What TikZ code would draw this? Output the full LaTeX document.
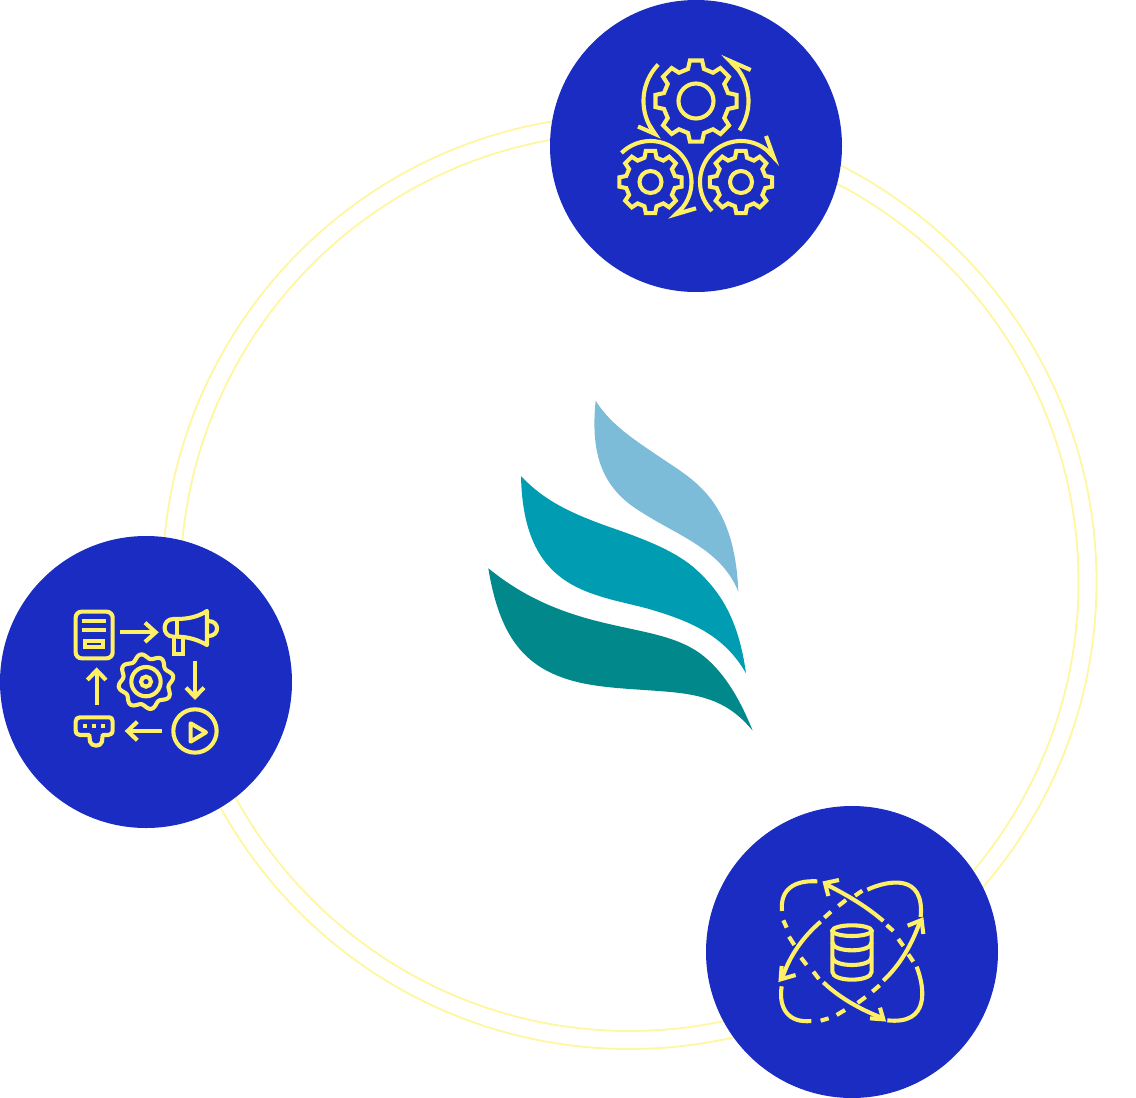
\documentclass[tikz,border=0pt]{standalone}
\definecolor{disc}{RGB}{27,44,194}
\definecolor{icon}{RGB}{255,240,102}
\definecolor{ring}{RGB}{255,246,160}
\definecolor{leafa}{RGB}{125,188,216}
\definecolor{leafb}{RGB}{0,157,178}
\definecolor{leafc}{RGB}{0,136,138}
\tikzset{
  disc/.style={circle,fill=disc,draw=none,minimum size=292pt,inner sep=0pt},
  ringline/.style={draw=ring,line width=1.8pt},
  ic/.style={draw=icon,line width=4.1pt,line join=miter},
  icr/.style={draw=icon,line width=4.1pt,line join=round,line cap=round},
}
% centre x, centre y, tip radius, base radius, hole radius
\newcommand{\cog}[5]{%
  \draw[ic] ({#1+#4*cos(-14)},{#2+#4*sin(-14)})
    \foreach \a in {0,45,...,315}{
      -- ({#1+#4*cos(\a-14)},{#2+#4*sin(\a-14)})
      -- ({#1+#3*cos(\a-8.5)},{#2+#3*sin(\a-8.5)})
      -- ({#1+#3*cos(\a+8.5)},{#2+#3*sin(\a+8.5)})
      -- ({#1+#4*cos(\a+14)},{#2+#4*sin(\a+14)})
    } -- cycle;
  \draw[ic] (#1,#2) circle[radius=#5];
}
% centre x, centre y, radius, from, to
\newcommand{\bend}[5]{%
  \draw[ic] plot[domain=#4:#5,samples=50,smooth] ({#1+#3*cos(\x)},{#2+#3*sin(\x)});
}
% centre x, centre y, radius, tip angle, back angle, barb end
\newcommand{\barb}[6]{%
  \draw[ic,miter limit=12] #6 -- ({#1+#3*cos(#4)},{#2+#3*sin(#4)}) -- ({#1+#3*cos(#5)},{#2+#3*sin(#5)});
}
\begin{document}
\begin{tikzpicture}[x=1pt,y=-1pt]
\useasboundingbox (0,0) rectangle (1136,1098);
% rings
\draw[ringline] (629.5,582) circle[radius=467];
\draw[ringline] (629.5,582) circle[radius=449];
% discs
\node[disc] (top) at (696,146) {};
\node[disc] (left) at (146,682) {};
\node[disc] (right) at (852,952) {};
% top icon
\cog{696}{101}{41}{33}{17.5}
\cog{650.5}{182}{31.5}{25}{11}
\cog{741}{182}{31.5}{25}{11}
\bend{696}{101}{52.5}{224}{146}
\bend{696}{101}{52.5}{34}{-44}
\bend{650.5}{182}{41}{-135}{46}
\bend{741}{182}{41}{135}{316}
\barb{696}{101}{52.5}{141}{152}{(638,126.5)}
\barb{696}{101}{52.5}{-50}{-38}{(750.7,70)}
\barb{650.5}{182}{41}{52}{40}{(696,208.3)}
\barb{741}{182}{41}{323}{310}{(766,136)}
% left icon
\begin{scope}[shift={(60,595)},x=0.3333pt,y=-0.3333pt]
  \draw[ic,rounded corners=6pt] (47,50) rectangle (158,190);
  \draw[ic] (65,77) -- (138,77) (65,105) -- (138,105);
  \draw[ic] (75,139) rectangle (128,157);
  \draw[ic] (180,112) -- (285,112);
  \draw[ic] (255,83) -- (287,112) -- (255,141);
  \draw[icr] (350,72) .. controls (385,72) and (415,65) .. (441,48) -- (441,150)
     .. controls (415,135) and (385,125) .. (350,125) -- (340,125)
     .. controls (305,125) and (305,72) .. (340,72) -- cycle;
  \draw[ic] (350,72) -- (350,125);
  \draw[ic] (343,127) -- (343,177) -- (368,177) -- (368,127);
  \draw[ic] (445,78) .. controls (480,78) and (480,123) .. (445,123);
  \draw[ic] (405,197) -- (405,300);
  \draw[ic] (378,278) -- (405,306) -- (432,278);
  \draw[ic] plot[domain=0:360,samples=145,smooth] ({258+(76+7*cos(8*\x+90))*cos(\x)},{260+(76+7*cos(8*\x+90))*sin(\x)});
  \draw[ic] (258,260) circle[radius=44];
  \draw[ic] (258,260) circle[radius=15];
  \draw[ic] (405,408) circle[radius=65];
  \draw[icr] (392,385) -- (438,412) -- (392,440) -- cycle;
  \draw[ic] (305,408) -- (205,408);
  \draw[ic] (232,380) -- (203,408) -- (232,436);
  \draw[icr] (60,367) -- (145,367) .. controls (155,367) and (158,372) .. (158,380)
     -- (158,405) .. controls (158,415) and (152,420) .. (145,420) -- (128,420)
     -- (126,440) .. controls (122,456) and (95,456) .. (90,440) -- (88,420) -- (60,420)
     .. controls (52,420) and (47,415) .. (47,405) -- (47,380) .. controls (47,372) and (52,367) .. (60,367) -- cycle;
  \foreach \q in {75,103,130}{\fill[icon] (\q-6,387) rectangle (\q+6,399);}
  \draw[ic] (110,330) -- (110,225);
  \draw[ic] (82,255) -- (110,226) -- (138,255);
\end{scope}
% right icon
\begin{scope}[shift={(765,865)},x=0.3333pt,y=-0.3333pt]
  \draw[ic] (261,197) ellipse[x radius=59,y radius=16];
  \draw[ic] (202,197) -- (202,320) .. controls (202,352) and (320,352) .. (320,320) -- (320,197);
  \draw[ic] (202,232) .. controls (202,264) and (320,264) .. (320,232);
  \draw[ic] (202,276) .. controls (202,308) and (320,308) .. (320,276);
  % corner arcs
  \draw[ic] (51,138) .. controls (45,75) and (85,45) .. (157,49);
  \draw[ic] (307,74) .. controls (370,45) and (480,25) .. (467,156);
  \draw[ic] (50,364) .. controls (40,430) and (70,475) .. (139,468);
  \draw[ic] (455,305) .. controls (480,370) and (495,480) .. (367,466);
  % long arrows
  \draw[ic] (187,60) .. controls (250,92) and (305,125) .. (355,168);
  \draw[ic] (350,458) .. controls (290,435) and (225,400) .. (175,352);
  \draw[ic] (52,338) .. controls (75,270) and (115,215) .. (167,170);
  \draw[ic] (465,170) .. controls (440,240) and (405,300) .. (355,347);
  \draw[ic] (222,45) -- (180,54) -- (190,93);
  \draw[ic] (345,428) -- (355,463) -- (315,460);
  \draw[ic] (50,303) -- (47,343) -- (92,330);
  \draw[ic] (428,182) -- (470,165) -- (475,207);
  % dashes
  \draw[ic] (365,180) -- (385,198);
  \draw[ic] (400,222) -- (415,243);
  \draw[ic] (430,268) -- (445,290);
  \draw[ic] (145,320) -- (162,342);
  \draw[ic] (108,278) -- (125,300);
  \draw[ic] (72,215) -- (88,240);
  \draw[ic] (55,166) -- (65,188);
  \draw[ic] (178,158) -- (198,140);
  \draw[ic] (220,123) -- (243,105);
  \draw[ic] (270,92) -- (292,77);
  \draw[ic] (322,380) -- (344,361);
  \draw[ic] (278,414) -- (302,396);
  \draw[ic] (215,450) -- (240,435);
  \draw[ic] (167,467) -- (191,460);
\end{scope}
% emblem
\begin{scope}[shift={(480,390)},x=0.3333pt,y=-0.3333pt]
  \fill[leafa] (347,32) .. controls (395,110) and (480,160) .. (560,215)
    .. controls (660,280) and (765,350) .. (775,605)
    .. controls (725,480) and (600,440) .. (490,370)
    .. controls (370,300) and (330,200) .. (347,32) -- cycle;
  \fill[leafb] (123,258) .. controls (190,330) and (270,370) .. (400,415)
    .. controls (500,450) and (590,485) .. (650,540)
    .. controls (715,600) and (775,680) .. (798,850)
    .. controls (730,730) and (620,690) .. (500,655)
    .. controls (330,610) and (130,600) .. (123,258) -- cycle;
  \fill[leafc] (25,535) .. controls (130,620) and (240,670) .. (400,705)
    .. controls (500,728) and (590,740) .. (660,790)
    .. controls (725,838) and (775,915) .. (818,1022)
    .. controls (750,940) and (680,915) .. (560,905)
    .. controls (440,895) and (330,895) .. (240,860)
    .. controls (120,815) and (55,720) .. (25,535) -- cycle;
\end{scope}
\end{tikzpicture}
\end{document}
